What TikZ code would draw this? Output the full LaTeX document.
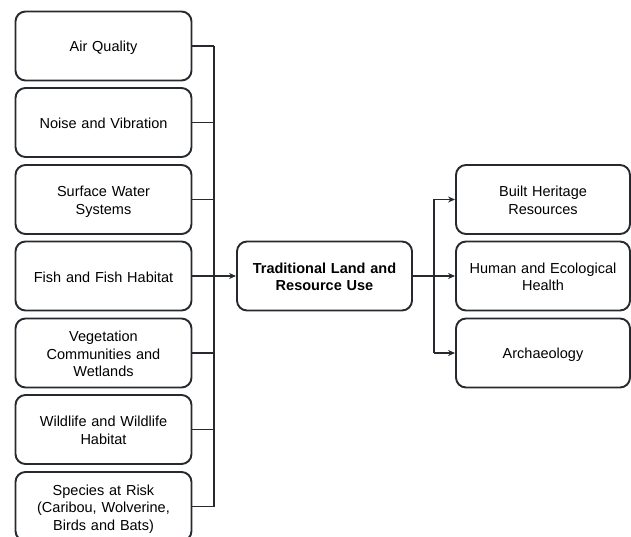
\documentclass[tikz,border=0pt]{standalone}
\usepackage{fontspec}
\setmainfont{Liberation Sans}
\usetikzlibrary{arrows.meta}
\definecolor{ln}{HTML}{262A2E}
\newcommand{\topstrutx}{\rule{0pt}{15pt}}
\newcommand{\botstrutx}{\rule[-3pt]{0pt}{3pt}}
\begin{document}
\begin{tikzpicture}[x=1pt,y=-1pt,
  box/.style={draw=ln,line width=1.9pt,rounded corners=10pt,minimum width=176pt,minimum height=69pt,inner sep=0pt,align=center,text width=170pt,font=\fontsize{14.5}{17.5}\selectfont,text=black,execute at begin node={\topstrutx},execute at end node={\botstrutx}},
  conn/.style={draw=ln,line width=1.9pt},
  arr/.style={conn,-{Stealth[length=7pt,width=6pt]}}]
\useasboundingbox (0,0) rectangle (631,537);
\begin{scope}
\clip (0,0) rectangle (631,537);
\node[box] (a1) at (103.5,46) {Air Quality};
\node[box] (a2) at (103.5,122.5) {Noise and Vibration};
\node[box] (a3) at (103.5,199.5) {Surface Water\\Systems};
\node[box] (a4) at (103.5,276) {Fish and Fish Habitat};
\node[box] (a5) at (103.5,353) {Vegetation\\Communities and\\Wetlands};
\node[box] (a6) at (103.5,429.5) {Wildlife and Wildlife\\Habitat};
\node[box] (a7) at (103.5,506.5) {Species at Risk\\(Caribou, Wolverine,\\Birds and Bats)};
\node[box,minimum width=175pt,font=\fontsize{14.5}{17.5}\selectfont\bfseries] (c) at (324.5,276) {Traditional Land and\\Resource Use};
\node[box,minimum width=174pt] (b1) at (543,199.5) {Built Heritage\\Resources};
\node[box,minimum width=174pt] (b2) at (543,276) {Human and Ecological\\Health};
\node[box,minimum width=174pt] (b3) at (543,353) {Archaeology};
\coordinate (j) at (214,276);
\coordinate (k) at (434,276);
\foreach \n in {a1,a2,a3,a4,a5,a6,a7}{
  \draw[conn] (\n.east) -- (\n.east -| j);
}
\draw[conn] (a1.east -| j) -- (a7.east -| j);
\draw[arr] (j) -- (c.west);
\draw[conn] (c.east) -- (k);
\draw[conn] (b1.west -| k) -- (b3.west -| k);
\foreach \n in {b1,b2,b3}{
  \draw[arr] (\n.west -| k) -- (\n.west);
}
\end{scope}
\end{tikzpicture}
\end{document}
